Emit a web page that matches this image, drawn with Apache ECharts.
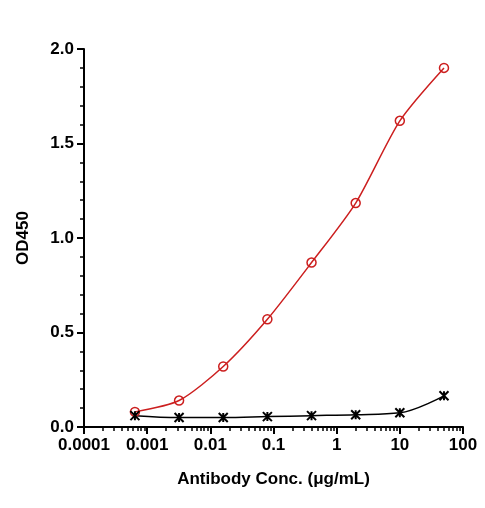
<!DOCTYPE html>
<html>
<head>
<meta charset="utf-8">
<script src="https://cdn.jsdelivr.net/npm/echarts@6/dist/echarts.min.js"></script>
<style>html,body{margin:0;padding:0;background:#fff}#c{width:485px;height:508px}</style>
</head>
<body>
<div id="c"></div>
<script>
const conc = [0.00064, 0.0032, 0.016, 0.08, 0.4, 2, 10, 50];
const redOD = [0.08, 0.14, 0.32, 0.57, 0.87, 1.185, 1.62, 1.90];
const blackOD = [0.06, 0.05, 0.05, 0.055, 0.06, 0.065, 0.075, 0.165];

const pairs = vals => conc.map((c, i) => [c, vals[i]]);
const font = { fontFamily: 'Liberation Sans', fontWeight: 'bold', color: '#000' };
const star = 'path://M0,0L10,10M10,0L0,10M5,0L5,10';

const chart = echarts.init(document.getElementById('c'));
chart.setOption({
    animation: false,
    grid: { left: 84, right: 22, top: 49, bottom: 81 },
    xAxis: {
        type: 'log', min: 0.0001, max: 100, logBase: 10,
        name: 'Antibody Conc. (μg/mL)', nameLocation: 'middle', nameGap: 44,
        nameTextStyle: Object.assign({ fontSize: 17 }, font),
        axisLine: { lineStyle: { color: '#000', width: 2 } },
        axisTick: { length: 7, lineStyle: { width: 2 } },
        minorTick: { show: true, splitNumber: 9, length: 4, lineStyle: { color: '#000', width: 1.5 } },
        axisLabel: Object.assign({ fontSize: 17, margin: 10 }, font),
        splitLine: { show: false }
    },
    yAxis: {
        type: 'value', min: 0, max: 2, interval: 0.5,
        name: 'OD450', nameLocation: 'middle', nameGap: 52,
        nameTextStyle: Object.assign({ fontSize: 17 }, font),
        axisLine: { show: true, lineStyle: { color: '#000', width: 2 } },
        axisTick: { show: true, length: 7, lineStyle: { width: 2 } },
        minorTick: { show: true, splitNumber: 5, length: 4, lineStyle: { color: '#000', width: 1.5 } },
        axisLabel: Object.assign({ fontSize: 17, margin: 10, formatter: v => v.toFixed(1) }, font),
        splitLine: { show: false }
    },
    series: [
        {
            type: 'line', data: pairs(redOD), smooth: 0.25,
            lineStyle: { color: '#cc1f1f', width: 1.5 },
            symbol: 'circle', symbolSize: 9,
            itemStyle: { color: 'transparent', borderColor: '#cc1f1f', borderWidth: 1.5 }
        },
        {
            type: 'line', data: pairs(blackOD), smooth: 0.35,
            lineStyle: { color: '#000', width: 1.5 },
            symbol: star, symbolSize: 9,
            itemStyle: { color: 'transparent', borderColor: '#000', borderWidth: 2 }
        }
    ]
});
</script>
</body>
</html>
